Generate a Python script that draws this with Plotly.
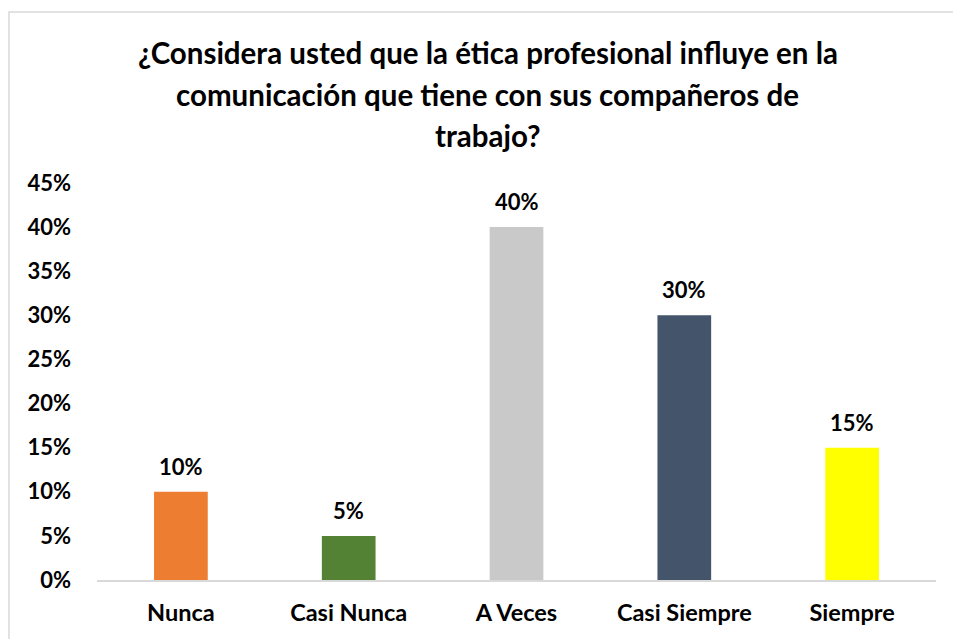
import plotly.graph_objects as go

categories = ["Nunca", "Casi Nunca", "A Veces", "Casi Siempre", "Siempre"]
values = [10, 5, 40, 30, 15]
labels = ["10%", "5%", "40%", "30%", "15%"]
colors = ["#ED7D31", "#548235", "#C9C9C9", "#44546A", "#FFFF00"]
tick_vals = [0, 5, 10, 15, 20, 25, 30, 35, 40, 45]
tick_text = ["0%", "5%", "10%", "15%", "20%", "25%", "30%", "35%", "40%", "45%"]
title_lines = [
    "¿Considera usted que la ética profesional influye en la",
    "comunicación que tiene con sus compañeros de",
    "trabajo?",
]

FONT = "Lato, 'Open Sans', sans-serif"
W, H = 953, 639
L, R, T, B = 97, 17, 183, 59
pw, ph = W - L - R, H - T - B

fig = go.Figure()
fig.add_trace(go.Bar(
    x=categories, y=values, marker=dict(color=colors, line=dict(width=0)),
    width=0.32, hoverinfo="skip",
))

annotations = []
for c, v, t in zip(categories, values, labels):
    annotations.append(dict(
        x=c, y=v, xref="x", yref="y", text="<b>%s</b>" % t, showarrow=False,
        yanchor="bottom", yshift=10,
        font=dict(family=FONT, size=22, color="#000000"),
    ))
title_y = [53, 94, 135]
for line, yy in zip(title_lines, title_y):
    annotations.append(dict(
        text="<b>%s</b>" % line, xref="paper", yref="paper",
        x=(487.5 - L) / pw, y=(H - B - yy) / ph, xanchor="center", yanchor="middle",
        showarrow=False, font=dict(family=FONT, size=29.5, color="#000000"),
    ))

fig.update_layout(
    width=W, height=H,
    margin=dict(l=L, r=R, t=T, b=B),
    paper_bgcolor="white", plot_bgcolor="white",
    showlegend=False,
    annotations=annotations,
    shapes=[dict(type="rect", xref="paper", yref="paper",
                 x0=(9 - L) / pw, x1=(970 - L) / pw,
                 y0=(H - B - 660) / ph, y1=(H - B - 12) / ph,
                 line=dict(color="#D9D9D9", width=1.5), layer="below")],
)
fig.update_xaxes(
    showgrid=False, showline=True, linecolor="#D9D9D9", linewidth=1.5,
    ticks="", tickfont=dict(family=FONT, size=23.5, color="#000000"),
    tickprefix="<b>", ticksuffix="</b>", ticklabelstandoff=11,
)
fig.update_yaxes(
    range=[0, 45], tickvals=tick_vals, ticktext=["<b>%s</b>" % t for t in tick_text],
    showgrid=False, showline=False, zeroline=False, ticks="",
    tickfont=dict(family=FONT, size=22, color="#000000"),
    ticklabelstandoff=25,
)
fig.write_html("out.html", config={"displayModeBar": False},
               post_script="document.body.style.margin='0';document.body.style.overflow='hidden';")
